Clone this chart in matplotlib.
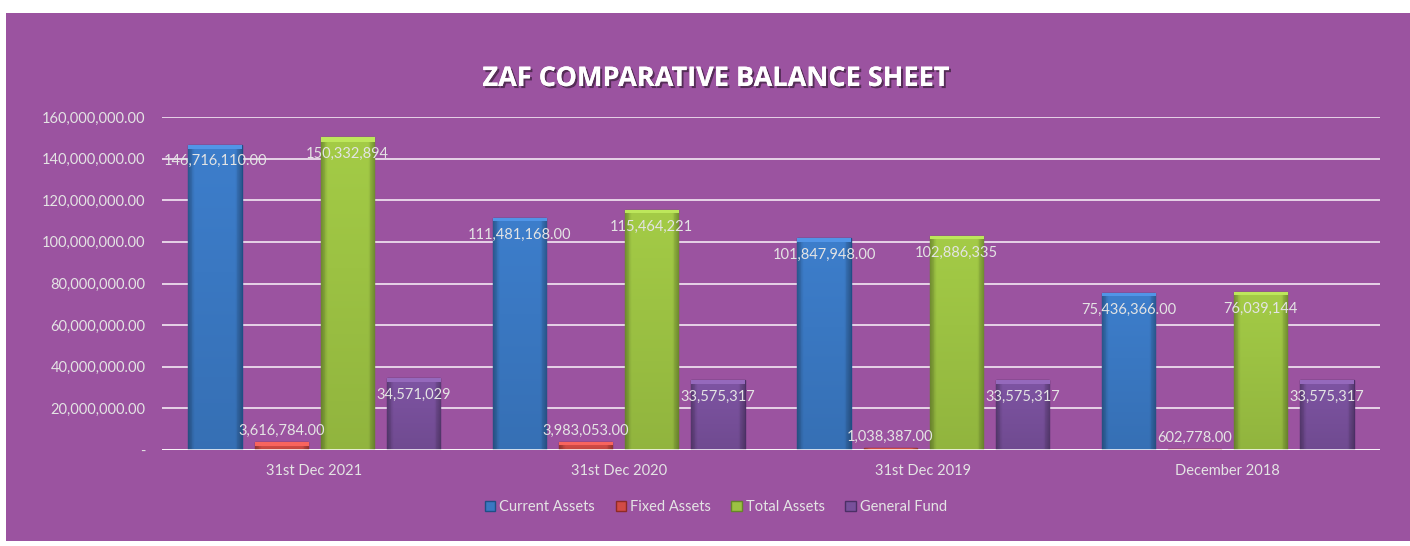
import matplotlib
matplotlib.use("Agg")
import matplotlib.pyplot as plt
import matplotlib.patheffects as pe
from matplotlib.patches import Rectangle
from matplotlib.ticker import FuncFormatter
from matplotlib.colors import to_rgb
import numpy as np

categories = ["31st Dec 2021", "31st Dec 2020", "31st Dec 2019", "December 2018"]
series_names = ["Current Assets", "Fixed Assets", "Total Assets", "General Fund"]
current_assets = [146716110.00, 111481168.00, 101847948.00, 75436366.00]
fixed_assets = [3616784.00, 3983053.00, 1038387.00, 602778.00]
total_assets = [150332894, 115464221, 102886335, 76039144]
general_fund = [34571029, 33575317, 33575317, 33575317]
label_formats = ["{:,.2f}", "{:,.2f}", "{:,.0f}", "{:,.0f}"]
yticks = [0, 20e6, 40e6, 60e6, 80e6, 100e6, 120e6, 140e6, 160e6]

title = "ZAF COMPARATIVE BALANCE SHEET"

bg = "#9B53A0"
colors = ["#3A78C2", "#D24B45", "#9CC243", "#78509B"]
edges = ["#1F4F86", "#8E2A26", "#66862A", "#4B2F66"]
txt = "#E4E4E4"

plt.rcParams['font.family'] = ['Lato', 'DejaVu Sans']

fig = plt.figure(figsize=(14.10, 5.46), dpi=100)
fig.patch.set_facecolor("white")
fig.add_artist(Rectangle((6/1410, 1-541/546), 1-6/1410, (541-13)/546,
                         transform=fig.transFigure, facecolor=bg, edgecolor="none", zorder=0))

ax_h_px = 450 - 117
ax = fig.add_axes([162/1410, 1-450/546, (1380-162)/1410, ax_h_px/546])
ax.set_facecolor("none")
ymax = 160e6


def shaded_image(color, bar_px, nx=60, ny=400):
    base = np.array(to_rgb(color))
    u = np.linspace(0, 1, nx)
    v = np.linspace(0, 1, ny)  # 0 = top row
    U, V = np.meshgrid(u, v)
    hx = 1 - 0.28 * np.clip(np.abs(2 * U - 1) - 0.75, 0, None) / 0.25
    hy = 1.05 - 0.12 * V
    f = (hx * hy)[..., None]
    img = np.clip(base[None, None, :] * f, 0, 1)
    frac = min(0.5, 4.0 / max(bar_px, 1))
    top = V < frac
    img[top] = np.clip(base * 1.1 + 0.07, 0, 1)
    return img


x = np.arange(len(categories))
step = 0.217
width = 0.175
all_series = [current_assets, fixed_assets, total_assets, general_fund]
for i, (vals, name) in enumerate(zip(all_series, series_names)):
    offs = (i - 1.5) * step
    bars = ax.bar(x + offs, vals, width, color=colors[i], edgecolor=edges[i],
                  linewidth=1.0, label=name, zorder=3)
    for b, v in zip(bars, vals):
        img = shaded_image(colors[i], v / ymax * ax_h_px)
        im = ax.imshow(img, extent=(b.get_x(), b.get_x() + b.get_width(), 0, v),
                       aspect="auto", zorder=3.5, interpolation="nearest")
        im.set_clip_path(b)
        s = label_formats[i].format(v)
        cx = b.get_x() + b.get_width() / 2
        if i == 1:
            ax.annotate(s, (cx, v), xytext=(0, 3), textcoords="offset points",
                        ha="center", va="bottom", color=txt, fontsize=10.5, zorder=5)
        else:
            ax.annotate(s, (cx, v), xytext=(0, -7), textcoords="offset points",
                        ha="center", va="top", color=txt, fontsize=10.5, zorder=5)

ax.set_xlim(-0.5, 3.5)
ax.set_ylim(0, ymax)
ax.set_yticks(yticks)
ax.yaxis.set_major_formatter(FuncFormatter(lambda v, p: "-" if v == 0 else f"{v:,.2f}"))
ax.set_xticks(x)
ax.set_xticklabels(categories)
ax.tick_params(axis="both", length=0, colors=txt, labelsize=10.5)
ax.tick_params(axis="y", pad=12)
ax.tick_params(axis="x", pad=10, labelsize=10.5)
for sp in ax.spines.values():
    sp.set_visible(False)
ax.grid(axis="y", color="#ECDDED", linewidth=1.3, zorder=1)
ax.axhline(0, color="#FFFFFF", linewidth=1.8, zorder=4)

fig.text(716/1410, 1-79/546, title, ha="center", va="center", color="white",
         fontsize=19.5, fontweight="bold", family=["Open Sans", "DejaVu Sans"],
         path_effects=[pe.withSimplePatchShadow(offset=(1.5, -1.5), shadow_rgbFace="black", alpha=0.45),
                       pe.Normal()])

leg = fig.legend(loc="center", bbox_to_anchor=(716/1410, 1-507/546), ncol=4, frameon=False,
                 fontsize=10.5, labelcolor=txt, handlelength=0.7, handleheight=0.7,
                 handletextpad=0.3, columnspacing=1.4, borderaxespad=0)

fig.savefig("out.png", dpi=100, facecolor=fig.get_facecolor())
